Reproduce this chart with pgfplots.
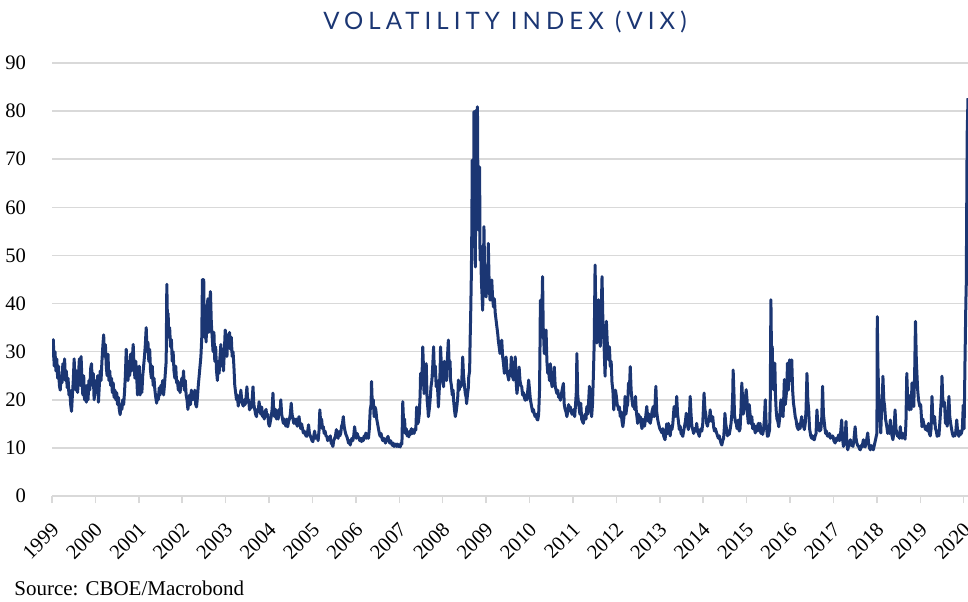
\documentclass[border=0pt]{standalone}
\usepackage{fontspec}
\setmainfont{Liberation Serif}
\newfontfamily\titlefont[LetterSpace=21]{Lato}
\usepackage{pgfplots}
\pgfplotsset{compat=1.18}
\definecolor{navy}{HTML}{1B3673}
\definecolor{gridgray}{HTML}{D9D9D9}
\begin{document}
\begin{tikzpicture}
\useasboundingbox (0,0) rectangle (484pt,300.5pt);
\begin{axis}[
  at={(26pt,52.5pt)}, anchor=south west,
  width=458pt, height=216.5pt, scale only axis,
  xmin=1999, xmax=2020.1, ymin=0, ymax=90,
  xtick={1999,2000,2001,2002,2003,2004,2005,2006,2007,2008,2009,2010,2011,2012,2013,2014,2015,2016,2017,2018,2019,2020},
  xticklabels={1999,2000,2001,2002,2003,2004,2005,2006,2007,2008,2009,2010,2011,2012,2013,2014,2015,2016,2017,2018,2019,2020},
  ytick={0,10,20,30,40,50,60,70,80,90},
  yticklabels={0,10,20,30,40,50,60,70,80,90},
  axis line style={draw=none},
  ymajorgrids, grid style={gridgray, line width=0.75pt},
  xtick pos=left, ytick pos=left,
  tick align=outside, major tick length=3.5pt,
  xtick style={gridgray, line width=0.75pt},
  ytick style={draw=none},
  ticklabel style={font=\fontsize{10.3}{12}\selectfont},
  xticklabel style={xshift=-0.8pt, yshift=-9pt, rotate=45, anchor=north east, inner sep=0pt},
  yticklabel style={xshift=-6pt},
]
\addplot[navy, line width=1.5pt, line join=round] coordinates {
(1999.00,31.5)(1999.02,29)(1999.03,32.5)(1999.05,27)(1999.07,30)(1999.09,26)(1999.11,28.5)(1999.13,24.5)(1999.15,27)(1999.17,23)
(1999.19,22)(1999.21,25)(1999.23,23.5)(1999.25,27.5)(1999.27,25)(1999.29,28.5)(1999.31,24)(1999.33,26)(1999.35,22.5)(1999.37,24.5)
(1999.39,21)(1999.41,22)(1999.43,19)(1999.45,17.6)(1999.47,21)(1999.49,24)(1999.51,28.5)(1999.53,24)(1999.55,22)(1999.57,26)
(1999.59,21.5)(1999.61,25)(1999.63,28.5)(1999.65,23)(1999.67,29)(1999.69,24)(1999.71,21)(1999.73,25)(1999.75,20)(1999.77,22.5)
(1999.79,19.5)(1999.81,23)(1999.83,20)(1999.85,24)(1999.87,22)(1999.89,26.5)(1999.91,27.5)(1999.93,23)(1999.95,25.5)(1999.97,20)(1999.99,22)
(2000.01,24)(2000.03,21.5)(2000.05,25)(2000.07,19.5)(2000.09,23)(2000.11,26)(2000.13,24)(2000.15,28)(2000.17,31)(2000.19,33.5)
(2000.21,29)(2000.23,31.5)(2000.25,27)(2000.27,25)(2000.29,29.5)(2000.31,24)(2000.33,26)(2000.35,23)(2000.37,24.5)(2000.39,21.5)
(2000.41,23.5)(2000.43,20.5)(2000.45,22)(2000.47,20)(2000.49,21.5)(2000.51,19)(2000.53,20.5)(2000.55,18)(2000.57,16.9)(2000.59,19)
(2000.61,18)(2000.63,20)(2000.65,19)(2000.67,21.5)(2000.69,25)(2000.71,30.5)(2000.73,26)(2000.75,24)(2000.77,28)(2000.79,25)
(2000.81,29.5)(2000.83,26)(2000.85,28.5)(2000.87,31.5)(2000.89,27)(2000.91,24.5)(2000.93,28)(2000.95,25)(2000.97,21)(2000.99,23)
(2001.01,27)(2001.03,21)(2001.05,23.5)(2001.07,21.5)(2001.09,25)(2001.11,27)(2001.13,29)(2001.15,31.5)(2001.17,35)(2001.19,30)
(2001.21,32)(2001.23,28)(2001.25,30.5)(2001.27,26)(2001.29,24.5)(2001.31,27)(2001.33,23)(2001.35,24.5)(2001.37,22)(2001.39,20.5)
(2001.41,19.3)(2001.43,21)(2001.45,20)(2001.47,22.5)(2001.49,21)(2001.51,23)(2001.53,22.5)(2001.55,24)(2001.57,21)(2001.59,23)
(2001.61,25.5)(2001.63,28)(2001.645,44)(2001.66,36)(2001.675,38)(2001.69,33)(2001.71,35)(2001.73,31)(2001.75,32.5)(2001.77,28)
(2001.79,30)(2001.81,26)(2001.83,24.5)(2001.85,27)(2001.87,23.5)(2001.89,24)(2001.91,22)(2001.93,23.5)(2001.95,21.5)(2001.97,23)(2001.99,24.5)
(2002.01,23)(2002.03,26)(2002.05,22)(2002.07,24)(2002.09,21)(2002.11,20)(2002.13,18)(2002.15,19.5)(2002.17,21)(2002.19,19)
(2002.21,22)(2002.23,20)(2002.25,21.5)(2002.27,20)(2002.29,22)(2002.31,19)(2002.33,18.5)(2002.35,20.5)(2002.37,23)(2002.39,25)
(2002.41,27)(2002.43,29)(2002.45,33)(2002.465,45)(2002.48,37)(2002.495,45)(2002.51,33)(2002.53,36)(2002.55,32)(2002.57,38)
(2002.59,41)(2002.61,34)(2002.63,40)(2002.65,42.5)(2002.67,36)(2002.69,33)(2002.71,30)(2002.73,34)(2002.75,28)(2002.77,31)
(2002.79,26)(2002.81,24)(2002.83,28)(2002.85,25.5)(2002.87,29)(2002.89,31.5)(2002.91,27)(2002.93,29)(2002.95,26)(2002.97,30)(2002.99,34.5)
(2003.01,33)(2003.03,29)(2003.05,33.5)(2003.07,31)(2003.09,34)(2003.11,30.5)(2003.13,33)(2003.15,29)(2003.17,30)(2003.19,27)
(2003.21,23)(2003.23,21.5)(2003.25,20)(2003.27,21)(2003.29,18.7)(2003.31,20.5)(2003.33,19.5)(2003.35,22)(2003.37,20)(2003.39,19)
(2003.41,18.7)(2003.43,20)(2003.45,19)(2003.47,20.5)(2003.49,22.7)(2003.51,19.5)(2003.53,20)(2003.55,17.9)(2003.57,19)(2003.59,18.3)
(2003.61,20)(2003.63,22.7)(2003.65,19)(2003.67,18)(2003.69,17)(2003.71,16.5)(2003.73,18)(2003.75,17.5)(2003.77,19.6)(2003.79,18)
(2003.81,17)(2003.83,18.5)(2003.85,16.5)(2003.87,17)(2003.89,16)(2003.91,17.5)(2003.93,18)(2003.95,16.5)(2003.97,17)(2003.99,15)
(2004.01,14.5)(2004.03,15.5)(2004.05,16.5)(2004.07,18)(2004.09,21.4)(2004.11,17)(2004.13,16.5)(2004.15,18)(2004.17,16)(2004.19,17.2)
(2004.21,16)(2004.23,18)(2004.25,17)(2004.27,20)(2004.29,17)(2004.31,16)(2004.33,15.1)(2004.35,16)(2004.37,15)(2004.39,14.5)
(2004.41,16)(2004.43,14.4)(2004.45,15.5)(2004.47,16)(2004.49,17)(2004.51,19.3)(2004.53,17)(2004.55,16)(2004.57,15.1)(2004.59,16)
(2004.61,15)(2004.63,16)(2004.65,14.5)(2004.67,15.5)(2004.69,16.5)(2004.71,15)(2004.73,14)(2004.75,15)(2004.77,14)(2004.79,13.1)
(2004.81,13.5)(2004.83,13)(2004.85,12.5)(2004.87,12.4)(2004.89,13.5)(2004.91,14.8)(2004.93,13)(2004.95,12.5)(2004.97,12)(2004.99,11.5)
(2005.01,11.3)(2005.03,12.5)(2005.05,13.5)(2005.07,12)(2005.09,12.5)(2005.11,12.4)(2005.13,11.5)(2005.15,13.5)(2005.17,17.9)(2005.19,15)
(2005.21,16)(2005.23,14)(2005.25,14.4)(2005.27,13)(2005.29,13.5)(2005.31,12.5)(2005.33,12.4)(2005.35,11.5)(2005.37,12)(2005.39,11.7)
(2005.41,12.5)(2005.43,11)(2005.45,10.8)(2005.47,10.3)(2005.49,11.5)(2005.51,12)(2005.53,12.5)(2005.55,13.8)(2005.57,12.5)(2005.59,12)
(2005.61,13.4)(2005.63,12.5)(2005.65,13)(2005.67,14.5)(2005.69,15)(2005.71,16.5)(2005.73,14.5)(2005.75,13.5)(2005.77,12.8)(2005.79,12.4)
(2005.81,11.8)(2005.83,11)(2005.85,11.5)(2005.87,10.6)(2005.89,11.5)(2005.91,12)(2005.93,11.5)(2005.95,12.5)(2005.97,14.4)(2005.99,13)
(2006.01,12)(2006.03,13)(2006.05,12.4)(2006.07,12)(2006.09,11.5)(2006.11,12)(2006.13,11.3)(2006.15,12)(2006.17,11.5)(2006.19,12.5)
(2006.21,12)(2006.23,13.1)(2006.25,12)(2006.27,12.5)(2006.29,12)(2006.31,14)(2006.33,17.9)(2006.35,19)(2006.36,23.8)(2006.38,18.5)
(2006.40,20)(2006.42,16.5)(2006.44,18.5)(2006.46,17.9)(2006.48,16)(2006.50,15)(2006.52,14)(2006.54,13)(2006.56,12.4)(2006.58,13)
(2006.60,12)(2006.62,11.5)(2006.64,12)(2006.66,11.7)(2006.68,11)(2006.70,11.5)(2006.72,12)(2006.74,12.4)(2006.76,11.5)(2006.78,11)
(2006.80,11.5)(2006.82,11)(2006.84,10.5)(2006.86,11)(2006.88,10.3)(2006.90,10.5)(2006.92,10.8)(2006.94,10.3)(2006.96,10.8)(2006.98,10.3)
(2007.00,10.5)(2007.02,10.2)(2007.04,11)(2007.06,10.8)(2007.08,19.6)(2007.10,15)(2007.12,16)(2007.14,13)(2007.16,14)(2007.18,12.5)
(2007.20,13)(2007.22,12.3)(2007.24,13.5)(2007.26,12.8)(2007.28,14)(2007.30,13)(2007.32,13.5)(2007.34,13)(2007.36,14)(2007.38,13.7)
(2007.40,18.5)(2007.42,15)(2007.44,15.4)(2007.46,17)(2007.48,21)(2007.49,25.5)(2007.51,23)(2007.53,27)(2007.54,31)(2007.56,26)
(2007.57,21.3)(2007.59,24)(2007.61,23)(2007.62,27.5)(2007.64,20)(2007.66,18)(2007.67,16.5)(2007.69,18)(2007.71,20)(2007.73,22.7)
(2007.75,24)(2007.77,27)(2007.79,31)(2007.81,25)(2007.83,27)(2007.85,22.7)(2007.87,24)(2007.89,21)(2007.90,18.5)(2007.92,22)
(2007.94,26)(2007.95,31)(2007.97,27)
(2008.00,24)(2008.02,22.7)(2008.04,28)(2008.05,25.5)(2008.07,27)(2008.09,24)(2008.11,29)(2008.13,32.4)(2008.15,27)(2008.17,28)
(2008.18,24.1)(2008.20,23)(2008.22,21)(2008.24,22)(2008.25,19.9)(2008.27,18)(2008.29,16.5)(2008.31,17.5)(2008.33,19)(2008.35,21)
(2008.36,24.1)(2008.38,22)(2008.40,23.5)(2008.42,22.7)(2008.44,24)(2008.46,28.9)(2008.48,25)(2008.50,23)(2008.52,21.3)(2008.54,20.5)
(2008.55,19.2)(2008.57,21)(2008.59,22.5)(2008.60,24.8)(2008.62,26)(2008.63,31.7)(2008.645,38)(2008.66,46.3)(2008.67,55)(2008.68,69.8)
(2008.695,60)(2008.71,51.8)(2008.72,79.9)(2008.735,62)(2008.75,47.6)(2008.76,60)(2008.77,80.2)(2008.785,72)(2008.80,80.9)(2008.81,65)
(2008.82,55.3)(2008.835,60)(2008.85,68.4)(2008.86,49)(2008.875,52)(2008.89,44.9)(2008.905,42)(2008.92,38.6)(2008.935,45)(2008.95,56)
(2008.965,47)(2008.98,42)(2009.00,41.4)
(2009.02,45)(2009.035,43)(2009.05,52.5)(2009.07,44)(2009.09,40.7)(2009.11,42)(2009.13,44.9)(2009.15,41)(2009.17,39.3)(2009.19,41)
(2009.21,38)(2009.23,36.5)(2009.25,35)(2009.27,33.5)(2009.28,32.4)(2009.30,31)(2009.32,29.6)(2009.34,31)(2009.36,32.4)(2009.38,29)
(2009.40,27.5)(2009.42,25.5)(2009.44,27)(2009.46,28.9)(2009.48,26)(2009.50,25)(2009.52,24.1)(2009.54,26)(2009.56,25)(2009.58,28.9)
(2009.60,25)(2009.62,24.5)(2009.63,24.1)(2009.65,26)(2009.67,28.9)(2009.69,24)(2009.71,21.3)(2009.73,23)(2009.75,25)(2009.76,26.8)
(2009.78,24)(2009.80,23)(2009.82,22.7)(2009.84,21)(2009.86,21.5)(2009.88,20.5)(2009.90,19.9)(2009.92,21)(2009.94,20)(2009.96,22)(2009.98,24.1)
(2010.00,22)(2010.02,20)(2010.04,19)(2010.05,18.5)(2010.07,17.5)(2010.09,18)(2010.11,17)(2010.13,16.5)(2010.15,17)(2010.17,16)
(2010.19,15.8)(2010.21,17)(2010.23,22)(2010.24,30)(2010.25,40.7)(2010.27,33)(2010.285,38)(2010.30,45.6)(2010.315,35)(2010.33,32)
(2010.34,29.6)(2010.36,31)(2010.38,34.5)(2010.40,28)(2010.42,25.5)(2010.44,26)(2010.46,24)(2010.48,27.5)(2010.50,24)(2010.52,22.7)
(2010.54,24)(2010.56,25)(2010.57,26.8)(2010.59,23)(2010.61,22)(2010.63,21.3)(2010.65,22)(2010.67,20.5)(2010.69,21)(2010.71,19.9)
(2010.73,21)(2010.75,22)(2010.78,23.4)(2010.80,19)(2010.82,18)(2010.84,17.5)(2010.86,16.5)(2010.88,17.5)(2010.90,19)(2010.92,18)
(2010.94,18.5)(2010.96,17.5)(2010.98,17)
(2011.00,17.1)(2011.02,18)(2011.04,16.5)(2011.06,19)(2011.08,22)(2011.09,29.6)(2011.11,21)(2011.13,19)(2011.14,18.5)(2011.16,17)
(2011.18,19.3)(2011.20,16)(2011.22,15.5)(2011.24,15.1)(2011.26,16.5)(2011.28,17)(2011.30,16)(2011.32,18.6)(2011.34,17)(2011.36,19.5)
(2011.38,22.8)(2011.40,19)(2011.42,17.5)(2011.43,16.5)(2011.45,19)(2011.47,24.9)(2011.49,32)(2011.51,48)(2011.53,36)(2011.55,31.8)
(2011.57,35)(2011.59,40.8)(2011.61,34)(2011.63,31.1)(2011.65,38)(2011.67,45.6)(2011.69,36)(2011.71,33)(2011.72,30.4)(2011.74,24.9)
(2011.77,36.3)(2011.79,32)(2011.82,28.3)(2011.84,31)(2011.86,26.9)(2011.88,28)(2011.90,23.5)(2011.92,22)(2011.94,17.9)(2011.96,20)(2011.98,22)
(2012.00,20.7)(2012.02,19)(2012.04,18.5)(2012.05,17.9)(2012.07,18.5)(2012.09,16.5)(2012.11,17.5)(2012.13,15.5)(2012.15,14.4)(2012.17,16)
(2012.19,18)(2012.20,20.7)(2012.22,17)(2012.24,18.5)(2012.26,19)(2012.28,23.5)(2012.30,22)(2012.32,26.9)(2012.34,22)(2012.36,20)
(2012.38,18.6)(2012.40,19.5)(2012.42,18)(2012.44,20.7)(2012.46,17.5)(2012.48,16)(2012.49,15.1)(2012.51,17)(2012.53,15.5)(2012.55,16.5)
(2012.57,15)(2012.59,14)(2012.61,16)(2012.63,15.1)(2012.65,14.5)(2012.67,16)(2012.70,18.6)(2012.72,16.5)(2012.74,15.5)(2012.76,17)
(2012.78,15.1)(2012.80,16)(2012.82,17.5)(2012.85,18.6)(2012.87,16.5)(2012.89,19)(2012.91,22.8)(2012.93,17.5)(2012.95,16)(2012.97,15.1)
(2013.00,14)(2013.03,13.5)(2013.05,13.1)(2013.07,14)(2013.09,12.5)(2013.12,11.7)(2013.14,13)(2013.16,15)(2013.18,13)(2013.20,15.1)
(2013.22,13.5)(2013.24,12.5)(2013.26,14.5)(2013.28,13.8)(2013.30,15)(2013.33,18.6)(2013.35,16.5)(2013.37,17)(2013.39,20.7)(2013.41,17)
(2013.43,15.5)(2013.45,13.8)(2013.47,14.5)(2013.49,13)(2013.51,12.8)(2013.53,12.4)(2013.55,13.5)(2013.57,14.5)(2013.59,15.5)(2013.61,17.2)
(2013.63,15)(2013.66,13.8)(2013.68,16)(2013.70,20.7)(2013.72,17)(2013.74,14.5)(2013.76,13.8)(2013.78,13)(2013.80,14)(2013.83,13.5)
(2013.85,15.1)(2013.87,13.5)(2013.89,13)(2013.91,12.4)(2013.93,13.5)(2013.95,14)(2013.97,13.5)(2013.99,15.1)
(2014.02,21.4)(2014.04,18)(2014.06,17)(2014.08,15.1)(2014.10,14.5)(2014.12,16)(2014.14,15.5)(2014.16,17.9)(2014.18,16)(2014.20,15.5)
(2014.22,16.5)(2014.24,14.4)(2014.26,13.5)(2014.28,14)(2014.31,13.1)(2014.33,12.5)(2014.35,12)(2014.37,12.5)(2014.39,11.7)(2014.41,11)
(2014.43,10.6)(2014.45,11.5)(2014.47,12)(2014.49,14.5)(2014.50,17.2)(2014.52,15)(2014.54,13.8)(2014.56,12.5)(2014.58,13.5)(2014.60,12.8)
(2014.62,13.8)(2014.64,15)(2014.66,17)(2014.68,21)(2014.69,26.2)(2014.71,21)(2014.72,17)(2014.74,15.5)(2014.76,15.1)(2014.78,14)
(2014.81,15.8)(2014.83,13.5)(2014.85,14)(2014.87,18)(2014.89,23.5)(2014.91,19.5)(2014.92,17)(2014.94,17.9)(2014.96,19)(2014.99,22.1)
(2015.01,20)(2015.02,17)(2015.04,15.1)(2015.06,19)(2015.08,17)(2015.10,15)(2015.12,16.5)(2015.14,14)(2015.16,15)(2015.18,14)
(2015.20,13.1)(2015.22,14.5)(2015.24,13.5)(2015.27,15.1)(2015.29,13.5)(2015.31,15.1)(2015.33,13)(2015.35,13.8)(2015.37,12.8)(2015.39,13.8)
(2015.41,16)(2015.43,20)(2015.45,15)(2015.48,12.4)(2015.50,12.5)(2015.53,13.8)(2015.545,20)(2015.56,40.8)(2015.575,28)(2015.59,31.1)
(2015.605,24)(2015.62,22.1)(2015.635,24)(2015.65,27.6)(2015.665,21)(2015.68,17.9)(2015.70,16)(2015.72,15.5)(2015.74,14.4)(2015.76,16)
(2015.79,20)(2015.81,17.5)(2015.84,16.5)(2015.87,24.2)(2015.89,19)(2015.91,20.7)(2015.93,23)(2015.94,27.6)(2015.96,22)(2015.99,28.3)
(2016.01,24)(2016.02,26)(2016.04,28.3)(2016.06,22)(2016.08,19.3)(2016.10,18)(2016.12,16.5)(2016.14,15.8)(2016.16,14.5)(2016.19,13.8)
(2016.21,15)(2016.23,14)(2016.25,15.5)(2016.27,16.5)(2016.29,14.5)(2016.31,15)(2016.33,13.8)(2016.35,15)(2016.37,18)(2016.39,25.5)
(2016.41,20)(2016.43,17.9)(2016.45,14)(2016.48,12.4)(2016.50,12)(2016.52,12.5)(2016.54,11.8)(2016.56,11.7)(2016.58,12.5)(2016.60,13)
(2016.62,17.9)(2016.64,15)(2016.66,15.1)(2016.68,13.5)(2016.71,13.8)(2016.73,16)(2016.75,22.8)(2016.77,17)(2016.80,14.4)(2016.82,13)
(2016.84,13.5)(2016.86,12.5)(2016.89,12.4)(2016.91,13)(2016.93,12)(2016.96,12.5)(2016.99,12.4)
(2017.01,11.5)(2017.04,11)(2017.06,12)(2017.08,11.5)(2017.10,12)(2017.12,12.7)(2017.14,11.5)(2017.16,12.5)(2017.19,15.8)(2017.21,12)
(2017.23,10.3)(2017.25,11)(2017.27,12)(2017.29,15.5)(2017.31,11)(2017.33,9.6)(2017.35,10.5)(2017.37,10.5)(2017.39,11.7)(2017.41,10.5)
(2017.43,11)(2017.45,10.3)(2017.47,11.5)(2017.50,14.4)(2017.52,12)(2017.54,11)(2017.56,10.5)(2017.58,10.3)(2017.60,9.8)(2017.62,9.6)
(2017.64,10.5)(2017.66,10.2)(2017.69,11.7)(2017.71,10.5)(2017.73,10.2)(2017.75,11)(2017.77,12)(2017.79,13.1)(2017.81,11)(2017.83,10)
(2017.85,9.6)(2017.87,10.5)(2017.89,10)(2017.92,9.6)(2017.94,10.5)(2017.97,11.7)
(2018.00,13)(2018.005,20)(2018.01,37.3)(2018.025,27)(2018.04,22)(2018.05,20)(2018.07,17)(2018.09,13.1)(2018.11,18)(2018.13,21)
(2018.14,24.9)(2018.16,20)(2018.18,18.6)(2018.20,16)(2018.23,14.4)(2018.25,13)(2018.27,14.5)(2018.29,13)(2018.31,15.8)(2018.33,13.5)
(2018.35,12.5)(2018.37,11.7)(2018.39,13)(2018.42,17.9)(2018.44,14)(2018.46,13)(2018.48,12.4)(2018.50,13)(2018.52,12)(2018.54,14.4)
(2018.56,12.5)(2018.58,12)(2018.60,13)(2018.63,12.4)(2018.65,11.8)(2018.67,15)(2018.69,25.5)(2018.71,20)(2018.73,21)(2018.75,17.9)
(2018.77,20)(2018.79,18)(2018.81,23.5)(2018.83,20)(2018.85,18.6)(2018.87,25)(2018.89,36.3)(2018.91,28)(2018.94,22.1)(2018.96,20)(2018.99,18.6)
(2019.01,19)(2019.04,14.4)(2019.06,16)(2019.08,15)(2019.10,14.5)(2019.12,13.8)(2019.14,14.5)(2019.17,13.5)(2019.19,15.1)(2019.21,13)
(2019.23,12.5)(2019.25,14)(2019.27,20.7)(2019.29,16)(2019.31,15.1)(2019.33,16.5)(2019.35,14)(2019.37,13.5)(2019.39,12.4)(2019.41,13)
(2019.43,12.5)(2019.45,15.1)(2019.47,18)(2019.49,21)(2019.50,24.9)(2019.52,20)(2019.54,18.6)(2019.56,19.5)(2019.58,15.1)(2019.60,16)
(2019.62,14.5)(2019.64,17)(2019.66,20.7)(2019.68,16.5)(2019.70,15.1)(2019.72,14)(2019.74,13)(2019.76,12.4)(2019.78,13)(2019.80,12.5)
(2019.82,13.5)(2019.84,15.8)(2019.86,13.5)(2019.89,12.4)(2019.91,13.5)(2019.93,12.8)(2019.95,13.1)(2019.97,14)(2019.99,18.9)
(2020.01,14)(2020.03,27.6)(2020.05,40)(2020.06,44)(2020.08,75)(2020.10,82.7)
};
\end{axis}
\node[anchor=base, inner sep=0pt, text=navy, font=\titlefont\fontsize{12}{14}\selectfont] at (252.5pt,285.9pt) {VOLATILITY INDEX (VIX)};
\node[anchor=base west, inner sep=0pt, font=\fontsize{10.5}{12}\selectfont] at (7pt,2.65pt) {Source: CBOE/Macrobond};
\end{tikzpicture}
\end{document}
